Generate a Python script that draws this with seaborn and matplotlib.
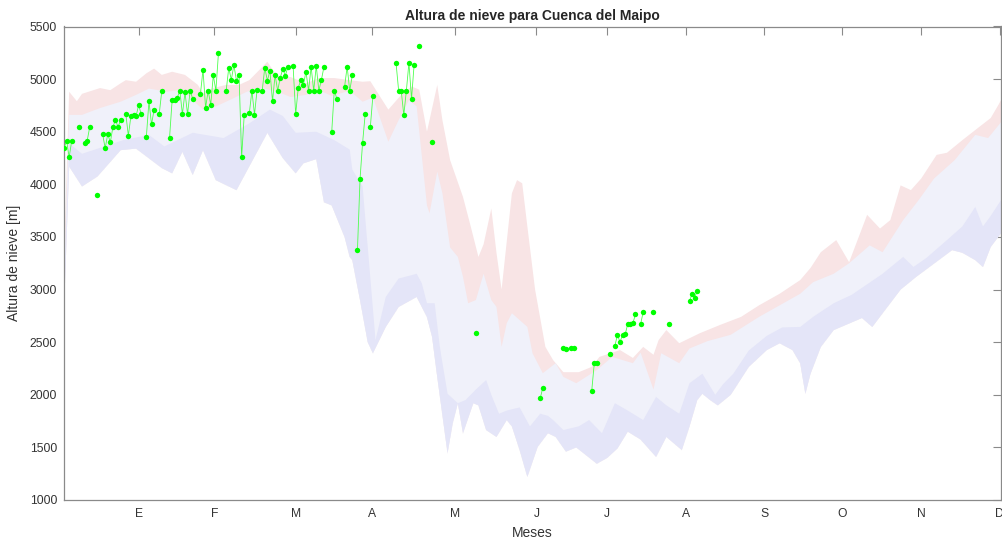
import numpy as np
import pandas as pd
import matplotlib
matplotlib.use('Agg')
import matplotlib.pyplot as plt
import seaborn as sns

# Observaciones diarias de altura de nieve (dia del año, metros)
dia_obs = [1, 2, 3, 4, 7, 9, 10, 11, 14,
           16, 17, 18, 19, 20, 21, 22, 23,
           25, 26, 27, 28, 29, 30, 31,
           33, 34, 35, 36, 38, 39,
           42, 43, 44, 45, 46, 47, 48, 49, 50, 51,
           54, 55, 56, 57, 58, 59, 60, 61,
           64, 65, 66, 67, 68, 69, 70, 71,
           73, 74, 75, 76,
           78, 79, 80, 81, 82, 83, 84, 85, 86, 87, 88,
           90, 91, 92, 93, 94, 95, 96, 97, 98, 99, 100, 101, 102,
           105, 106, 107, 110, 111, 112, 113,
           115, 116, 117, 118, 120, 121,
           130, 131, 132, 133, 134, 135, 136, 137, 139, 144,
           161, 186, 187, 195, 196, 198, 199, 206, 207, 208, 213,
           215, 216, 217, 218, 219, 220, 221, 222, 223,
           225, 226, 230, 236, 244, 245, 246, 247]
altura_obs = [4342, 4415, 4257, 4415, 4545, 4390, 4415, 4545, 3902,
              4478, 4342, 4478, 4400, 4545, 4611, 4545, 4611,
              4671, 4462, 4649, 4656, 4649, 4754, 4666,
              4453, 4789, 4570, 4709, 4671, 4890,
              4442, 4798, 4801, 4823, 4890, 4666, 4874, 4666, 4890, 4814,
              4858, 5090, 4728, 4890, 4757, 5036, 4890, 5248,
              4890, 5106, 4994, 5134, 4985, 5042, 4257, 4656,
              4678, 4890, 4663, 4896,
              4890, 5109, 4985, 5080, 4789, 5039, 4890, 5011, 5099, 5033, 5118,
              5125, 4666, 4918, 4992, 4947, 5071, 4890, 5118, 4890, 5125, 4890, 4994, 5118,
              4497, 4890, 4814, 4928, 5118, 4890, 5036,
              3376, 4051, 4396, 4666, 4545, 4842,
              5150, 4890, 4890, 4659, 4890, 5156, 4811, 5134, 5315, 4400,
              2584, 1966, 2067, 2442, 2432, 2442, 2442, 2036, 2299, 2305, 2387,
              2465, 2570, 2500, 2571, 2573, 2673, 2673, 2680, 2765,
              2673, 2785, 2784, 2670, 2894, 2956, 2923, 2989]

# Limite superior de la banda roja
sup_dias = [1, 3, 6, 8, 15, 19, 23, 25, 29, 33, 36, 39, 43, 48, 53, 55, 59, 64, 69, 73,
            80, 84, 89, 95, 100, 106, 112, 117, 120, 127, 132, 136, 139, 142, 146, 148,
            151, 156, 159, 162, 164, 167, 169, 171, 175, 177, 179, 181, 184, 188, 191,
            195, 201, 206, 209, 217, 222, 226, 230, 232, 235, 240, 248, 256, 264, 271,
            279, 287, 291, 295, 301, 306, 313, 318, 322, 326, 330, 334, 340, 344, 350,
            356, 361, 364, 365]
sup_vals = [3300, 4880, 4790, 4860, 4915, 4895, 4960, 4990, 4975, 5055, 5100, 5040, 5070,
            5040, 4945, 4865, 4915, 4945, 4945, 4990, 5165, 5020, 5020, 4960, 5010, 5010,
            4990, 4975, 4980, 4710, 4850, 4930, 4900, 4500, 4945, 4610, 4230, 3880, 3600,
            3310, 3430, 3770, 3350, 3000, 3915, 4040, 4010, 3600, 3000, 2455, 2330, 2215,
            2215, 2265, 2360, 2425, 2350, 2455, 2380, 2520, 2615, 2490, 2585, 2665, 2740,
            2850, 2960, 3090, 3205, 3355, 3470, 3260, 3710, 3580, 3660, 3990, 3945, 4055,
            4280, 4300, 4420, 4535, 4630, 4755, 4800]

# Limite entre banda roja y banda central
med_sup_dias = [1, 3, 8, 15, 23, 29, 34, 41, 47, 51, 55, 60, 67, 72, 78, 84, 89, 95, 100,
                105, 112, 117, 121, 127, 131, 135, 138, 142, 143, 146, 148, 151, 154, 156,
                158, 161, 164, 167, 169, 171, 173, 175, 178, 181, 183, 187, 192, 195, 200,
                208, 214, 222, 225, 230, 233, 240, 244, 251, 260, 271, 279, 287, 292, 300,
                306, 314, 319, 327, 333, 339, 347, 355, 360, 365]
med_sup_vals = [3100, 4660, 4660, 4725, 4785, 4850, 4910, 4880, 4900, 4800, 4710, 4740,
                4820, 4880, 4915, 4880, 4830, 4850, 4895, 4840, 4890, 4785, 4825, 4405,
                4610, 4800, 4740, 3800, 3725, 4120, 3915, 3400, 3310, 3120, 2870, 2900,
                3150, 2900, 2835, 2455, 2680, 2775, 2710, 2645, 2395, 2205, 2300, 2170,
                2110, 2235, 2360, 2300, 2400, 2050, 2395, 2300, 2440, 2510, 2570, 2740,
                2850, 2960, 3070, 3150, 3250, 3420, 3355, 3660, 3850, 4055, 4230, 4470,
                4440, 4590]

# Limite entre banda central y banda azul
med_inf_dias = [1, 3, 8, 24, 34, 40, 51, 63, 73, 81, 86, 91, 99, 106, 108, 112, 113, 117,
                119, 122, 126, 131, 135, 138, 140, 142, 145, 147, 150, 154, 157, 161, 165,
                167, 170, 173, 178, 182, 186, 189, 191, 195, 201, 205, 210, 215, 220, 226,
                231, 235, 240, 244, 249, 254, 257, 261, 267, 274, 280, 287, 292, 300, 307,
                313, 319, 327, 331, 336, 344, 350, 355, 358, 361, 365]
med_inf_vals = [2950, 4390, 4290, 4420, 4470, 4360, 4490, 4440, 4580, 4710, 4650, 4490,
                4500, 4420, 4390, 4330, 4140, 3980, 3400, 2520, 2930, 3105, 3130, 3150,
                3060, 2870, 2870, 2455, 2010, 1920, 1950, 2050, 2140, 2000, 1820, 1850,
                1880, 1700, 1820, 1800, 1760, 1665, 1700, 1760, 1635, 1920, 1850, 1760,
                1980, 1900, 1820, 2110, 2200, 2000, 2100, 2200, 2420, 2560, 2640, 2645,
                2740, 2870, 2950, 3050, 3150, 3310, 3215, 3300, 3470, 3600, 3785, 3600,
                3700, 3850]

# Limite inferior de la banda azul
inf_dias = [1, 3, 8, 14, 23, 29, 39, 43, 47, 51, 55, 60, 68, 80, 86, 91, 94, 99, 102, 105,
            110, 112, 113, 116, 119, 121, 126, 131, 138, 142, 144, 146, 150, 152, 154, 156,
            160, 162, 165, 169, 173, 175, 178, 181, 185, 189, 192, 196, 200, 208, 212, 216,
            220, 225, 231, 235, 241, 244, 247, 249, 252, 255, 260, 267, 274, 279, 284, 287,
            289, 291, 295, 300, 311, 315, 319, 326, 332, 346, 350, 355, 358, 361, 365]
inf_vals = [2800, 4170, 3980, 4075, 4325, 4340, 4155, 4105, 4310, 4090, 4325, 4040, 3945,
            4490, 4250, 4105, 4200, 4240, 3830, 3800, 3500, 3310, 3280, 2900, 2500, 2395,
            2645, 2835, 2930, 2740, 2550, 2170, 1445, 1730, 1920, 1635, 1920, 1900, 1665,
            1600, 1760, 1700, 1475, 1220, 1505, 1635, 1600, 1460, 1500, 1345, 1400, 1490,
            1650, 1575, 1410, 1600, 1475, 1700, 1950, 2010, 1950, 1900, 2000, 2265, 2425,
            2490, 2425, 2300, 2010, 2200, 2455, 2615, 2730, 2645, 2775, 3000, 3120, 3375,
            3350, 3280, 3215, 3405, 3535]

meses = ['E', 'F', 'M', 'A', 'M', 'J', 'J', 'A', 'S', 'O', 'N', 'D']
meses_pos = [30, 59.4, 91, 120.5, 153, 184.5, 212, 242.5, 273, 303.3, 334, 364.5]

sns.set_style('white')
plt.rcParams['font.family'] = ['Liberation Sans', 'DejaVu Sans']

fig = plt.figure(figsize=(10.03, 5.41), dpi=100)
ax = fig.add_axes([64 / 1003, 41 / 541, 937 / 1003, 473.5 / 541])

# bandas: se pintan de arriba hacia abajo, cada una cerrada contra el limite inferior
inf_x = np.array(inf_dias)[::-1]
inf_y = np.array(inf_vals)[::-1]
for dias, vals, color in [(sup_dias, sup_vals, '#f8e4e5'),
                          (med_sup_dias, med_sup_vals, '#f0f1fa'),
                          (med_inf_dias, med_inf_vals, '#e4e5f8')]:
    ax.fill(np.r_[dias, inf_x], np.r_[vals, inf_y], color=color, lw=0, zorder=1)

obs = pd.DataFrame({'dia': dia_obs, 'altura': altura_obs})
obs['tramo'] = (obs['dia'].diff() != 1).cumsum()

sns.lineplot(data=obs, x='dia', y='altura', units='tramo', estimator=None,
             color='#4dff4d', lw=0.6, ax=ax, legend=False, zorder=3)
sns.scatterplot(data=obs, x='dia', y='altura', color='#00ff00', s=15,
                linewidth=0, ax=ax, legend=False, zorder=4)

ax.set_xlim(1, 365)
ax.set_ylim(1000, 5500)
ax.set_xticks(meses_pos)
ax.set_xticklabels(meses)
ax.set_yticks(np.arange(1000, 5501, 500))

for s in ax.spines.values():
    s.set_visible(True)
    s.set_color('#8a8a8a')
    s.set_linewidth(0.9)
ax.tick_params(direction='in', length=6, width=0.8, color='#8a8a8a',
               top=True, right=True, labelsize=8.7, labelcolor='#333333')
ax.tick_params(axis='x', pad=6)
ax.tick_params(axis='y', pad=5)

ax.set_title('Altura de nieve para Cuenca del Maipo', fontsize=10,
             fontweight='bold', pad=5)
ax.set_xlabel('Meses', fontsize=10, color='#333333', labelpad=4)
ax.set_ylabel('Altura de nieve [m]', fontsize=10, color='#333333', labelpad=6)

fig.savefig('out.png', dpi=100)
